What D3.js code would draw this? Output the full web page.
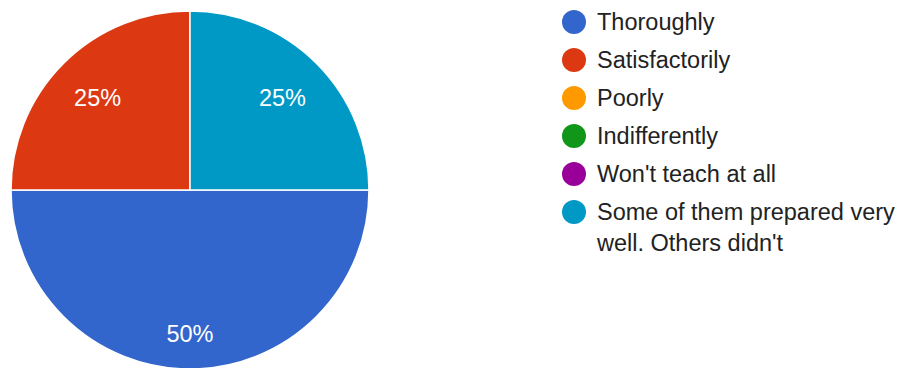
<!DOCTYPE html>
<html>
<head>
<meta charset="utf-8">
<script src="https://cdn.jsdelivr.net/npm/d3@7"></script>
<style>
  html, body { margin: 0; padding: 0; background: #fff; }
  svg { display: block; }
</style>
</head>
<body>
<svg id="chart" width="904" height="368"></svg>
<script>
// Survey answers and their share of responses (percent)
const categories = [
  "Thoroughly",
  "Satisfactorily",
  "Poorly",
  "Indifferently",
  "Won't teach at all",
  "Some of them prepared very well. Others didn't"
];
const shares = [50, 25, 0, 0, 0, 25];
const colors = ["#3366cc", "#dc3912", "#ff9900", "#109618", "#990099", "#0099c6"];

const svg = d3.select("#chart");
const font = "Arial, 'Liberation Sans', Helvetica, sans-serif";

const cx = 190, cy = 190, radius = 179;

const data = categories.map((name, i) => ({ name, value: shares[i], color: colors[i] }));

const pie = d3.pie()
  .sort(null)
  .value(d => d.value)
  .startAngle(Math.PI / 2)
  .endAngle(Math.PI / 2 + 2 * Math.PI);

const arcs = pie(data).filter(d => d.data.value > 0);
const arc = d3.arc().innerRadius(0).outerRadius(radius);

const g = svg.append("g").attr("transform", `translate(${cx},${cy})`);

g.selectAll("path.slice")
  .data(arcs)
  .join("path")
  .attr("class", "slice")
  .attr("d", arc)
  .attr("fill", d => d.data.color)
  .attr("stroke", "#fff")
  .attr("stroke-width", 1.5);

// Percentage labels inside each slice
g.selectAll("text.pct")
  .data(arcs)
  .join("text")
  .attr("class", "pct")
  .attr("transform", d => {
    const share = d.data.value / 100;
    const lr = radius * (0.66 + 0.28 * share);
    const a = (d.startAngle + d.endAngle) / 2;
    return `translate(${lr * Math.sin(a)},${-lr * Math.cos(a)})`;
  })
  .attr("text-anchor", "middle")
  .attr("dy", "0.36em")
  .attr("font-family", font)
  .attr("font-size", 23.5)
  .attr("fill", "#fff")
  .text(d => `${d.data.value}%`);

// Legend
const legendX = 574, legendY = 22, rowGap = 38, lineGap = 31, maxTextW = 306;
const textX = legendX + 23;
const legend = svg.append("g");
let y = legendY;
data.forEach(d => {
  const row = legend.append("g");
  row.append("circle")
    .attr("cx", legendX).attr("cy", y).attr("r", 12)
    .attr("fill", d.color);
  const text = row.append("text")
    .attr("font-family", font)
    .attr("font-size", 23.5)
    .attr("fill", "#222");
  // wrap long labels onto extra lines
  const words = d.name.split(" ");
  let line = [];
  let lines = 0;
  const addLine = k => text.append("tspan")
    .attr("x", textX)
    .attr("y", y + k * lineGap)
    .attr("dy", "0.36em");
  let tspan = addLine(0);
  words.forEach(w => {
    line.push(w);
    tspan.text(line.join(" "));
    if (tspan.node().getComputedTextLength() > maxTextW && line.length > 1) {
      line.pop();
      tspan.text(line.join(" "));
      line = [w];
      lines++;
      tspan = addLine(lines).text(w);
    }
  });
  y += rowGap + lines * lineGap;
});
</script>
</body>
</html>
